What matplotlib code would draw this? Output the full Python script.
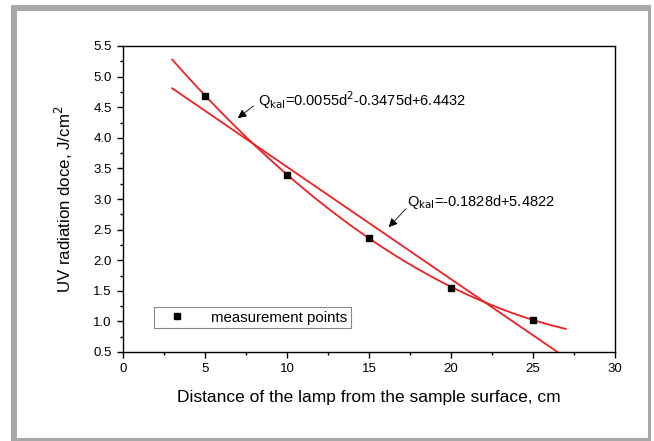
import numpy as np
import matplotlib
matplotlib.use("Agg")
import matplotlib.pyplot as plt
from matplotlib.patches import Rectangle
from matplotlib.ticker import MultipleLocator, FormatStrFormatter

plt.rcParams['font.family'] = ['Liberation Sans', 'DejaVu Sans']

# measurement points
distance = [5, 10, 15, 20, 25]
dose = [4.69, 3.40, 2.37, 1.55, 1.03]

# fitted curves (least squares on the points)
fit_start, fit_end = 3, 27
quad_label = r"Q$_{\rm kal}$=0.0055d$^{2}$-0.3475d+6.4432"
lin_label = r"Q$_{\rm kal}$=-0.1828d+5.4822"

W, H = 654, 441
fig = plt.figure(figsize=(W / 100, H / 100), dpi=100)

# grey frame round the figure
fig.patches.append(Rectangle((11 / W, 0), 640 / W, (H - 5) / H,
                             transform=fig.transFigure, facecolor="#a9a9ac",
                             edgecolor="none", zorder=-2))
fig.patches.append(Rectangle((17 / W, 3 / H), 631 / W, (H - 14) / H,
                             transform=fig.transFigure, facecolor="white",
                             edgecolor="none", zorder=-1))

ax = fig.add_axes([123 / W, 1 - 352 / H, 492 / W, 306 / H])

d = np.linspace(fit_start, fit_end, 200)
q = np.polyfit(distance, dose, 2)
l = np.polyfit(distance, dose, 1)
ax.plot(d, np.polyval(q, d), color="#ee2020", lw=1.3)
ax.plot(d, np.polyval(l, d), color="#ee2020", lw=1.3)
ax.plot(distance, dose, "s", color="black", ms=5, label="measurement points",
        zorder=5)

ax.set_xlim(0, 30)
ax.set_ylim(0.5, 5.5)
ax.xaxis.set_major_locator(MultipleLocator(5))
ax.xaxis.set_minor_locator(MultipleLocator(2.5))
ax.yaxis.set_major_locator(MultipleLocator(0.5))
ax.yaxis.set_minor_locator(MultipleLocator(0.25))
ax.yaxis.set_major_formatter(FormatStrFormatter("%.1f"))
ax.tick_params(which="both", direction="out", top=False, right=False,
               labelsize=9.5, width=1, pad=4)
ax.tick_params(which="major", length=4)
ax.tick_params(which="minor", length=2.5)
for s in ax.spines.values():
    s.set_linewidth(1)

ax.set_xlabel("Distance of the lamp from the sample surface, cm", fontsize=12.5,
              labelpad=11)
ax.set_ylabel(r"UV radiation doce, J/cm$^{2}$", fontsize=12.2, labelpad=13)

arrow = dict(arrowstyle="-|>", color="black", lw=0.6, mutation_scale=13,
             shrinkA=0, shrinkB=0)
ax.text(8.25, 4.62, quad_label, fontsize=10.5, va="center", ha="left")
ax.annotate("", xy=(7.0, 4.32), xytext=(7.95, 4.52), arrowprops=arrow)
ax.text(17.3, 2.95, lin_label, fontsize=10.5, va="center", ha="left")
ax.annotate("", xy=(16.2, 2.54), xytext=(17.25, 2.84), arrowprops=arrow)

leg = ax.legend(loc="lower left", bbox_to_anchor=(0.047, 0.053), fontsize=10.8,
                fancybox=False, edgecolor="#888888", framealpha=1,
                markerscale=0.8, handletextpad=1.0, borderpad=0.25,
                handlelength=2.6)
leg.get_frame().set_linewidth(0.8)

fig.savefig("out.png", dpi=100)
